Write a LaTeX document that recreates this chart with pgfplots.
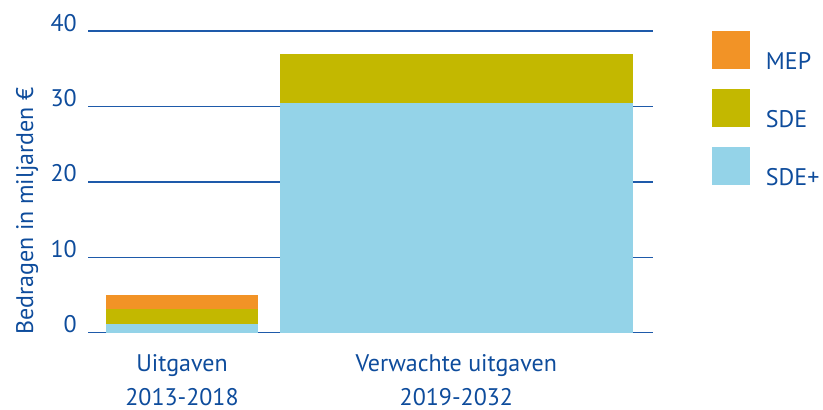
\documentclass[border=0pt]{standalone}
\usepackage{pgfplots}
\pgfplotsset{compat=1.18}
\usepackage{fontspec}
\setmainfont{PT Sans}
\definecolor{txtblue}{RGB}{14,76,156}
\definecolor{gridblue}{RGB}{30,90,170}
\definecolor{mep}{RGB}{242,147,38}
\definecolor{sde}{RGB}{195,184,0}
\definecolor{sdeplus}{RGB}{148,211,232}
\begin{document}
\begin{tikzpicture}
\useasboundingbox (0,0) rectangle (823pt,410pt);
\begin{axis}[
  at={(88pt,77.3pt)}, anchor=south west,
  scale only axis, width=565pt, height=301.7pt,
  xmin=0, xmax=565, ymin=0, ymax=40,
  ybar stacked, bar width=152,
  axis line style={draw=none},
  ytick={0,10,20,30,40},
  ymajorgrids, grid style={gridblue, line width=1.3pt},
  major tick length=0pt,
  xtick={94,368.35},
  xticklabels={{Uitgaven\\2013-2018},{Verwachte uitgaven\\2019-2032}},
  xticklabel style={align=center, anchor=north, inner sep=0pt, text depth=0pt, yshift=-21.3pt, font=\fontsize{24}{34.5}\selectfont, text=txtblue},
  yticklabel style={anchor=base east, inner sep=0pt, xshift=-11pt, font=\fontsize{24}{28}\selectfont, text=txtblue},
  /pgf/number format/assume math mode=true,
  ylabel={Bedragen in miljarden €},
  ylabel style={at={(axis description cs:-0.0973,0.4034)}, anchor=base, font=\fontsize{24}{28}\selectfont, text=txtblue},
  legend style={at={(axis description cs:1.10442,1)}, anchor=north west, draw=none, fill=none, inner sep=0pt, outer sep=0pt, row sep=18.5pt, column sep=16pt, font=\fontsize{24}{28}\selectfont, text=txtblue, cells={anchor=base west}, nodes={inner sep=0pt}},
  legend image code/.code={\fill[#1] (0pt,0pt) rectangle (38pt,38pt);},
  reverse legend,
]
\addplot[fill=sdeplus, draw=none] coordinates {(94,1.2)};
\addlegendentry{SDE+}
\addplot[fill=sde, draw=none] coordinates {(94,1.95)};
\addlegendentry{SDE}
\addplot[fill=mep, draw=none] coordinates {(94,1.85)};
\addlegendentry{MEP}
\end{axis}
\begin{axis}[
  at={(88pt,77.3pt)}, anchor=south west,
  scale only axis, width=565pt, height=301.7pt,
  xmin=0, xmax=565, ymin=0, ymax=40,
  hide axis, ybar stacked, bar width=352.7,
]
\addplot[fill=sdeplus, draw=none] coordinates {(368.35,30.4)};
\addplot[fill=sde, draw=none] coordinates {(368.35,6.5)};
\end{axis}
\end{tikzpicture}
\end{document}
